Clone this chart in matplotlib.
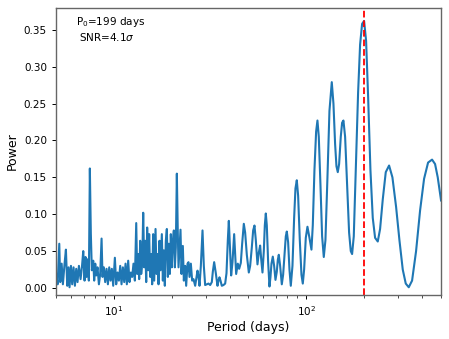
import matplotlib
matplotlib.use("Agg")
import matplotlib.pyplot as plt
import numpy as np

# periodogram: period (days) and power
period_noisy = [5.01, 5.10, 5.20, 5.26, 5.35, 5.43, 5.54, 5.63, 5.72, 5.81,
                5.88, 5.98, 6.07, 6.17, 6.27, 6.37, 6.47, 6.58, 6.71, 6.82,
                6.93, 7.04, 7.12, 7.21, 7.33, 7.41, 7.50, 7.59, 7.68, 7.81,
                7.90, 8.00, 8.09, 8.22, 8.36, 8.49, 8.63, 8.73, 8.87, 9.01,
                9.16, 9.31, 9.46, 9.61, 9.76, 9.92, 10.12, 10.28, 10.45, 10.62,
                10.79, 10.96, 11.14, 11.32, 11.50, 11.68, 11.87, 12.06, 12.26, 12.45,
                12.65, 12.86, 13.07, 13.22, 13.38, 13.54, 13.71, 13.87, 14.04, 14.21,
                14.38, 14.55, 14.73, 14.90, 15.08, 15.26, 15.45, 15.63, 15.82, 16.01,
                16.21, 16.47, 16.66, 16.86, 17.07, 17.27, 17.48, 17.76, 17.98, 18.19,
                18.41, 18.63, 18.86, 19.09, 19.32, 19.55, 19.78, 20.02, 20.26, 20.51,
                20.76, 21.00, 21.26, 21.51, 21.69, 21.95, 22.21, 22.48, 22.84, 23.12,
                23.49, 23.77, 24.16, 24.44, 24.74, 25.14, 25.54, 25.95]
power_noisy = [0.019, 0.005, 0.060, 0.008, 0.033, 0.005, 0.033, 0.052, 0.003, 0.028,
               0.001, 0.030, 0.005, 0.028, 0.003, 0.026, 0.008, 0.030, 0.012, 0.028,
               0.050, 0.010, 0.042, 0.015, 0.039, 0.010, 0.162, 0.073, 0.024, 0.037,
               0.010, 0.033, 0.017, 0.028, 0.005, 0.019, 0.067, 0.015, 0.028, 0.008,
               0.026, 0.005, 0.028, 0.010, 0.026, 0.003, 0.041, 0.005, 0.021, 0.010,
               0.030, 0.005, 0.028, 0.008, 0.033, 0.005, 0.037, 0.008, 0.021, 0.015,
               0.033, 0.010, 0.088, 0.019, 0.046, 0.012, 0.064, 0.019, 0.033, 0.102,
               0.028, 0.064, 0.008, 0.082, 0.024, 0.073, 0.015, 0.046, 0.005, 0.073,
               0.010, 0.080, 0.019, 0.046, 0.005, 0.064, 0.024, 0.073, 0.010, 0.051,
               0.003, 0.064, 0.080, 0.015, 0.060, 0.019, 0.073, 0.028, 0.064, 0.078,
               0.028, 0.055, 0.155, 0.073, 0.028, 0.055, 0.079, 0.019, 0.057, 0.010,
               0.030, 0.003, 0.033, 0.035, 0.015, 0.033, 0.010, 0.012]

period_smooth = [26.48, 26.90, 27.23, 27.56, 27.89, 28.34, 28.91, 29.37, 29.84, 30.45,
                 31.06, 31.69, 32.32, 32.71, 33.24, 33.91, 34.59, 35.01, 35.43, 35.86,
                 36.43, 37.17, 37.92, 38.53, 39.15, 39.62, 40.10, 40.74, 41.40, 42.23,
                 42.74, 43.26, 44.13, 44.84, 45.74, 46.48, 47.41, 48.18, 49.15, 50.34,
                 51.15, 52.18, 53.02, 53.87, 54.74, 55.84, 56.74, 57.65, 58.35, 59.29,
                 60.24, 60.97, 61.70, 62.44, 63.45, 64.47, 65.25, 66.03, 67.09, 68.17,
                 69.27, 70.38, 71.23, 72.09, 73.25, 74.73, 75.93, 77.15, 78.39, 79.34,
                 80.61, 81.91, 83.23, 84.91, 86.62, 88.01, 89.43, 90.87, 92.70, 94.56,
                 96.09, 97.63, 99.60, 101.61, 104.07, 106.59, 108.31, 110.49, 112.72, 114.53,
                 116.38, 118.72, 121.11, 123.55, 126.04, 129.10, 132.23, 135.97, 138.71, 141.51,
                 143.79, 146.10, 148.45, 151.44, 153.88, 156.35, 159.51, 163.38, 167.33, 170.71,
                 173.45, 176.95, 181.24, 186.37, 190.89, 195.51, 200.24, 205.10, 210.07, 216.02,
                 222.14, 228.43, 235.84, 242.52, 250.39, 259.55, 270.11, 281.11, 293.73, 305.69,
                 318.13, 329.77, 341.83, 355.74, 373.19, 391.50, 410.70, 430.85, 451.99, 468.52,
                 483.71, 503.41]
power_smooth = [0.003, 0.015, 0.0235, 0.015, 0.003, 0.030, 0.078, 0.030, 0.004, 0.005,
                0.006, 0.004, 0.008, 0.022, 0.035, 0.020, 0.003, 0.010, 0.0145, 0.010,
                0.003, 0.004, 0.006, 0.020, 0.065, 0.091, 0.060, 0.017, 0.035, 0.073,
                0.045, 0.019, 0.033, 0.026, 0.034, 0.060, 0.087, 0.075, 0.045, 0.021,
                0.030, 0.055, 0.078, 0.0847, 0.065, 0.032, 0.048, 0.0575, 0.040, 0.021,
                0.050, 0.085, 0.101, 0.085, 0.035, 0.002, 0.015, 0.033, 0.0425, 0.030,
                0.011, 0.022, 0.038, 0.045, 0.030, 0.005, 0.018, 0.045, 0.070, 0.0765,
                0.062, 0.025, 0.003, 0.030, 0.095, 0.135, 0.146, 0.125, 0.065, 0.018,
                0.006, 0.025, 0.068, 0.083, 0.068, 0.052, 0.085, 0.160, 0.212, 0.227,
                0.205, 0.140, 0.070, 0.042, 0.065, 0.150, 0.240, 0.279, 0.250, 0.195,
                0.165, 0.157, 0.168, 0.205, 0.224, 0.227, 0.205, 0.140, 0.075, 0.050,
                0.046, 0.070, 0.160, 0.265, 0.330, 0.358, 0.362, 0.335, 0.260, 0.160,
                0.095, 0.068, 0.063, 0.080, 0.120, 0.157, 0.166, 0.150, 0.110, 0.065,
                0.025, 0.006, 0.001, 0.010, 0.050, 0.105, 0.148, 0.170, 0.174, 0.168,
                0.150, 0.1186]

best_period = 199
snr = 4.1

period = np.array(period_noisy + period_smooth)
power = np.array(power_noisy + power_smooth)

fig = plt.figure(figsize=(4.49, 3.39), dpi=100)
ax = fig.add_axes([56/449, 1 - 295/339, 385/449, 287/339])

ax.plot(period, power, color='#1f77b4', lw=1.5)
ax.axvline(best_period, color='red', ls='--', lw=1.3)

ax.set_xscale('log')
ax.set_xlim(5, 503)
ax.set_ylim(-0.0095, 0.3795)
ax.set_yticks([0.0, 0.05, 0.10, 0.15, 0.20, 0.25, 0.30, 0.35])

ax.set_xlabel('Period (days)', fontsize=9, labelpad=2)
ax.set_ylabel('Power', fontsize=9)
ax.tick_params(labelsize=7.5, length=3, width=0.7)
ax.tick_params(which='minor', length=1.8, width=0.5)
for s in ax.spines.values():
    s.set_linewidth(1.0)
    s.set_color('0.4')

ax.text(0.052, 0.975, f'P$_0$={best_period} days\n SNR={snr}$\\sigma$',
        transform=ax.transAxes, fontsize=7.5, va='top', ha='left')

fig.savefig('out.png', dpi=100)
